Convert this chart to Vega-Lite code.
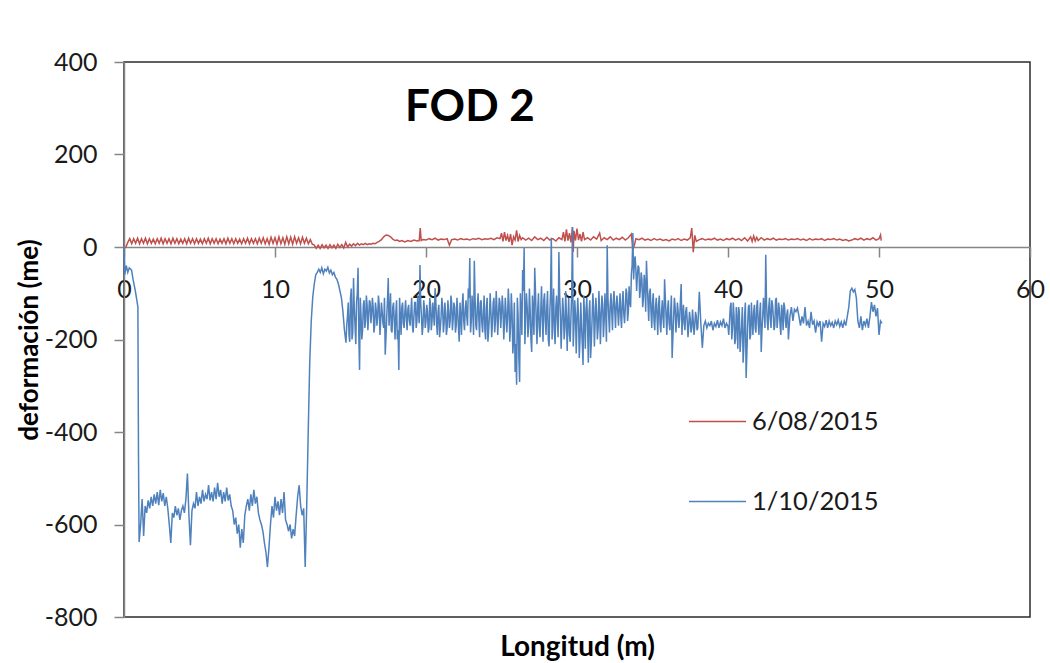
{
"$schema": "https://vega.github.io/schema/vega-lite/v6.json",
"width": 906, "height": 555,
"autosize": "none",
"padding": {"left": 124, "top": 62, "right": 20, "bottom": 46},
"background": "white",
"config": {"font": "Lato", "view": {"stroke": "#2b2b2b", "strokeWidth": 1.5}},
"title": {"text": "FOD 2", "anchor": "start", "frame": "group", "dx": 281, "offset": -115, "baseline": "alphabetic", "fontSize": 44, "fontWeight": "bold", "color": "#000000", "font": "Lato"},
"data": {"values": [
{"m":0.1,"me":-2,"serie":"6/08/2015"},{"m":0.25,"me":10,"serie":"6/08/2015"},{"m":0.38,"me":18,"serie":"6/08/2015"},{"m":0.51,"me":7,"serie":"6/08/2015"},{"m":0.64,"me":18,"serie":"6/08/2015"},{"m":0.77,"me":8,"serie":"6/08/2015"},{"m":0.9,"me":19,"serie":"6/08/2015"},{"m":1.03,"me":7,"serie":"6/08/2015"},{"m":1.16,"me":18,"serie":"6/08/2015"},{"m":1.29,"me":8,"serie":"6/08/2015"},{"m":1.42,"me":19,"serie":"6/08/2015"},{"m":1.55,"me":7,"serie":"6/08/2015"},{"m":1.68,"me":18,"serie":"6/08/2015"},{"m":1.81,"me":8,"serie":"6/08/2015"},{"m":1.94,"me":17,"serie":"6/08/2015"},{"m":2.07,"me":7,"serie":"6/08/2015"},{"m":2.2,"me":18,"serie":"6/08/2015"},{"m":2.33,"me":8,"serie":"6/08/2015"},{"m":2.46,"me":19,"serie":"6/08/2015"},{"m":2.59,"me":7,"serie":"6/08/2015"},{"m":2.72,"me":18,"serie":"6/08/2015"},{"m":2.85,"me":8,"serie":"6/08/2015"},{"m":2.98,"me":18,"serie":"6/08/2015"},{"m":3.11,"me":7,"serie":"6/08/2015"},{"m":3.24,"me":19,"serie":"6/08/2015"},{"m":3.37,"me":8,"serie":"6/08/2015"},{"m":3.5,"me":18,"serie":"6/08/2015"},{"m":3.63,"me":7,"serie":"6/08/2015"},{"m":3.76,"me":17,"serie":"6/08/2015"},{"m":3.89,"me":8,"serie":"6/08/2015"},{"m":4.02,"me":18,"serie":"6/08/2015"},{"m":4.15,"me":7,"serie":"6/08/2015"},{"m":4.28,"me":19,"serie":"6/08/2015"},{"m":4.41,"me":8,"serie":"6/08/2015"},{"m":4.54,"me":18,"serie":"6/08/2015"},{"m":4.67,"me":7,"serie":"6/08/2015"},{"m":4.8,"me":18,"serie":"6/08/2015"},{"m":4.93,"me":8,"serie":"6/08/2015"},{"m":5.06,"me":17,"serie":"6/08/2015"},{"m":5.19,"me":7,"serie":"6/08/2015"},{"m":5.32,"me":18,"serie":"6/08/2015"},{"m":5.45,"me":8,"serie":"6/08/2015"},{"m":5.58,"me":19,"serie":"6/08/2015"},{"m":5.71,"me":7,"serie":"6/08/2015"},{"m":5.84,"me":18,"serie":"6/08/2015"},{"m":5.97,"me":8,"serie":"6/08/2015"},{"m":6.1,"me":18,"serie":"6/08/2015"},{"m":6.23,"me":7,"serie":"6/08/2015"},{"m":6.36,"me":17,"serie":"6/08/2015"},{"m":6.49,"me":8,"serie":"6/08/2015"},{"m":6.62,"me":18,"serie":"6/08/2015"},{"m":6.75,"me":7,"serie":"6/08/2015"},{"m":6.88,"me":19,"serie":"6/08/2015"},{"m":7.01,"me":8,"serie":"6/08/2015"},{"m":7.14,"me":18,"serie":"6/08/2015"},{"m":7.27,"me":7,"serie":"6/08/2015"},{"m":7.4,"me":18,"serie":"6/08/2015"},{"m":7.53,"me":8,"serie":"6/08/2015"},{"m":7.66,"me":17,"serie":"6/08/2015"},{"m":7.79,"me":7,"serie":"6/08/2015"},{"m":7.92,"me":18,"serie":"6/08/2015"},{"m":8.05,"me":8,"serie":"6/08/2015"},{"m":8.18,"me":19,"serie":"6/08/2015"},{"m":8.31,"me":7,"serie":"6/08/2015"},{"m":8.44,"me":18,"serie":"6/08/2015"},{"m":8.57,"me":8,"serie":"6/08/2015"},{"m":8.7,"me":18,"serie":"6/08/2015"},{"m":8.83,"me":7,"serie":"6/08/2015"},{"m":8.96,"me":19,"serie":"6/08/2015"},{"m":9.09,"me":8,"serie":"6/08/2015"},{"m":9.22,"me":20,"serie":"6/08/2015"},{"m":9.35,"me":7,"serie":"6/08/2015"},{"m":9.48,"me":18,"serie":"6/08/2015"},{"m":9.61,"me":6,"serie":"6/08/2015"},{"m":9.74,"me":21,"serie":"6/08/2015"},{"m":9.87,"me":8,"serie":"6/08/2015"},{"m":10.0,"me":20,"serie":"6/08/2015"},{"m":10.13,"me":6,"serie":"6/08/2015"},{"m":10.26,"me":22,"serie":"6/08/2015"},{"m":10.39,"me":7,"serie":"6/08/2015"},{"m":10.52,"me":20,"serie":"6/08/2015"},{"m":10.65,"me":6,"serie":"6/08/2015"},{"m":10.78,"me":22,"serie":"6/08/2015"},{"m":10.91,"me":7,"serie":"6/08/2015"},{"m":11.04,"me":21,"serie":"6/08/2015"},{"m":11.17,"me":6,"serie":"6/08/2015"},{"m":11.3,"me":22,"serie":"6/08/2015"},{"m":11.43,"me":8,"serie":"6/08/2015"},{"m":11.56,"me":20,"serie":"6/08/2015"},{"m":11.69,"me":7,"serie":"6/08/2015"},{"m":11.82,"me":21,"serie":"6/08/2015"},{"m":11.95,"me":8,"serie":"6/08/2015"},{"m":12.08,"me":19,"serie":"6/08/2015"},{"m":12.21,"me":7,"serie":"6/08/2015"},{"m":12.34,"me":16,"serie":"6/08/2015"},{"m":12.47,"me":6,"serie":"6/08/2015"},{"m":12.6,"me":4,"serie":"6/08/2015"},
{"m":12.73,"me":-3,"serie":"6/08/2015"},{"m":12.86,"me":4,"serie":"6/08/2015"},{"m":12.99,"me":-3,"serie":"6/08/2015"},{"m":13.12,"me":5,"serie":"6/08/2015"},{"m":13.25,"me":-2,"serie":"6/08/2015"},{"m":13.38,"me":4,"serie":"6/08/2015"},{"m":13.51,"me":-3,"serie":"6/08/2015"},{"m":13.64,"me":5,"serie":"6/08/2015"},{"m":13.77,"me":-2,"serie":"6/08/2015"},{"m":13.9,"me":4,"serie":"6/08/2015"},{"m":14.03,"me":-3,"serie":"6/08/2015"},{"m":14.16,"me":6,"serie":"6/08/2015"},{"m":14.29,"me":-1,"serie":"6/08/2015"},{"m":14.42,"me":5,"serie":"6/08/2015"},{"m":14.55,"me":-2,"serie":"6/08/2015"},{"m":14.68,"me":10,"serie":"6/08/2015"},{"m":14.81,"me":0,"serie":"6/08/2015"},{"m":14.94,"me":6,"serie":"6/08/2015"},{"m":15.07,"me":2,"serie":"6/08/2015"},{"m":15.2,"me":7,"serie":"6/08/2015"},{"m":15.33,"me":3,"serie":"6/08/2015"},{"m":15.46,"me":8,"serie":"6/08/2015"},{"m":15.59,"me":4,"serie":"6/08/2015"},{"m":15.72,"me":7,"serie":"6/08/2015"},{"m":15.85,"me":5,"serie":"6/08/2015"},{"m":15.98,"me":8,"serie":"6/08/2015"},{"m":16.11,"me":5,"serie":"6/08/2015"},{"m":16.24,"me":7,"serie":"6/08/2015"},{"m":16.37,"me":6,"serie":"6/08/2015"},{"m":16.5,"me":8,"serie":"6/08/2015"},{"m":16.63,"me":7,"serie":"6/08/2015"},{"m":16.76,"me":10,"serie":"6/08/2015"},{"m":16.9,"me":12,"serie":"6/08/2015"},{"m":17.05,"me":16,"serie":"6/08/2015"},{"m":17.2,"me":22,"serie":"6/08/2015"},{"m":17.35,"me":26,"serie":"6/08/2015"},{"m":17.5,"me":25,"serie":"6/08/2015"},{"m":17.65,"me":22,"serie":"6/08/2015"},{"m":17.8,"me":17,"serie":"6/08/2015"},{"m":17.95,"me":14,"serie":"6/08/2015"},{"m":18.1,"me":15,"serie":"6/08/2015"},{"m":18.25,"me":12,"serie":"6/08/2015"},{"m":18.4,"me":14,"serie":"6/08/2015"},{"m":18.6,"me":11,"serie":"6/08/2015"},{"m":18.8,"me":14,"serie":"6/08/2015"},{"m":19.0,"me":12,"serie":"6/08/2015"},{"m":19.2,"me":15,"serie":"6/08/2015"},{"m":19.4,"me":13,"serie":"6/08/2015"},{"m":19.55,"me":14,"serie":"6/08/2015"},{"m":19.62,"me":41,"serie":"6/08/2015"},{"m":19.68,"me":14,"serie":"6/08/2015"},{"m":19.8,"me":16,"serie":"6/08/2015"},{"m":20.0,"me":15,"serie":"6/08/2015"},{"m":20.2,"me":18,"serie":"6/08/2015"},{"m":20.4,"me":16,"serie":"6/08/2015"},{"m":20.6,"me":19,"serie":"6/08/2015"},{"m":20.8,"me":15,"serie":"6/08/2015"},{"m":21.0,"me":17,"serie":"6/08/2015"},{"m":21.2,"me":16,"serie":"6/08/2015"},{"m":21.4,"me":18,"serie":"6/08/2015"},{"m":21.55,"me":4,"serie":"6/08/2015"},{"m":21.7,"me":16,"serie":"6/08/2015"},{"m":21.9,"me":17,"serie":"6/08/2015"},{"m":22.1,"me":15,"serie":"6/08/2015"},{"m":22.3,"me":18,"serie":"6/08/2015"},{"m":22.5,"me":16,"serie":"6/08/2015"},{"m":22.7,"me":17,"serie":"6/08/2015"},{"m":22.9,"me":15,"serie":"6/08/2015"},{"m":23.1,"me":18,"serie":"6/08/2015"},{"m":23.3,"me":17,"serie":"6/08/2015"},{"m":23.5,"me":19,"serie":"6/08/2015"},{"m":23.7,"me":16,"serie":"6/08/2015"},{"m":23.9,"me":18,"serie":"6/08/2015"},{"m":24.1,"me":17,"serie":"6/08/2015"},{"m":24.3,"me":19,"serie":"6/08/2015"},{"m":24.5,"me":16,"serie":"6/08/2015"},{"m":24.7,"me":20,"serie":"6/08/2015"},{"m":24.9,"me":18,"serie":"6/08/2015"},{"m":25.0,"me":30,"serie":"6/08/2015"},{"m":25.1,"me":12,"serie":"6/08/2015"},{"m":25.2,"me":32,"serie":"6/08/2015"},{"m":25.3,"me":14,"serie":"6/08/2015"},{"m":25.4,"me":25,"serie":"6/08/2015"},{"m":25.5,"me":11,"serie":"6/08/2015"},{"m":25.6,"me":28,"serie":"6/08/2015"},{"m":25.7,"me":4,"serie":"6/08/2015"},{"m":25.8,"me":22,"serie":"6/08/2015"},{"m":25.9,"me":15,"serie":"6/08/2015"},{"m":26.0,"me":36,"serie":"6/08/2015"},{"m":26.1,"me":12,"serie":"6/08/2015"},{"m":26.2,"me":25,"serie":"6/08/2015"},{"m":26.3,"me":16,"serie":"6/08/2015"},{"m":26.4,"me":20,"serie":"6/08/2015"},{"m":26.6,"me":15,"serie":"6/08/2015"},{"m":26.8,"me":19,"serie":"6/08/2015"},{"m":27.0,"me":14,"serie":"6/08/2015"},{"m":27.2,"me":22,"serie":"6/08/2015"},{"m":27.4,"me":16,"serie":"6/08/2015"},{"m":27.6,"me":19,"serie":"6/08/2015"},{"m":27.8,"me":14,"serie":"6/08/2015"},{"m":28.0,"me":21,"serie":"6/08/2015"},{"m":28.2,"me":15,"serie":"6/08/2015"},{"m":28.4,"me":18,"serie":"6/08/2015"},{"m":28.6,"me":13,"serie":"6/08/2015"},{"m":28.8,"me":20,"serie":"6/08/2015"},{"m":29.0,"me":16,"serie":"6/08/2015"},{"m":29.1,"me":32,"serie":"6/08/2015"},{"m":29.2,"me":12,"serie":"6/08/2015"},{"m":29.3,"me":38,"serie":"6/08/2015"},{"m":29.4,"me":14,"serie":"6/08/2015"},{"m":29.5,"me":30,"serie":"6/08/2015"},{"m":29.6,"me":10,"serie":"6/08/2015"},{"m":29.7,"me":43,"serie":"6/08/2015"},{"m":29.75,"me":-11,"serie":"6/08/2015"},{"m":29.8,"me":35,"serie":"6/08/2015"},{"m":29.9,"me":14,"serie":"6/08/2015"},{"m":30.0,"me":40,"serie":"6/08/2015"},{"m":30.1,"me":15,"serie":"6/08/2015"},{"m":30.2,"me":28,"serie":"6/08/2015"},{"m":30.3,"me":12,"serie":"6/08/2015"},{"m":30.4,"me":32,"serie":"6/08/2015"},{"m":30.5,"me":16,"serie":"6/08/2015"},{"m":30.7,"me":20,"serie":"6/08/2015"},{"m":30.9,"me":15,"serie":"6/08/2015"},{"m":31.1,"me":22,"serie":"6/08/2015"},{"m":31.3,"me":17,"serie":"6/08/2015"},{"m":31.5,"me":30,"serie":"6/08/2015"},{"m":31.6,"me":14,"serie":"6/08/2015"},{"m":31.8,"me":20,"serie":"6/08/2015"},{"m":32.0,"me":16,"serie":"6/08/2015"},{"m":32.2,"me":22,"serie":"6/08/2015"},{"m":32.4,"me":15,"serie":"6/08/2015"},{"m":32.6,"me":19,"serie":"6/08/2015"},{"m":32.8,"me":16,"serie":"6/08/2015"},{"m":33.0,"me":21,"serie":"6/08/2015"},{"m":33.2,"me":15,"serie":"6/08/2015"},{"m":33.4,"me":20,"serie":"6/08/2015"},{"m":33.6,"me":28,"serie":"6/08/2015"},{"m":33.7,"me":-6,"serie":"6/08/2015"},{"m":33.8,"me":4,"serie":"6/08/2015"},{"m":33.9,"me":18,"serie":"6/08/2015"},{"m":34.1,"me":16,"serie":"6/08/2015"},{"m":34.3,"me":19,"serie":"6/08/2015"},{"m":34.5,"me":15,"serie":"6/08/2015"},{"m":34.7,"me":17,"serie":"6/08/2015"},{"m":34.9,"me":14,"serie":"6/08/2015"},{"m":35.1,"me":18,"serie":"6/08/2015"},{"m":35.3,"me":15,"serie":"6/08/2015"},{"m":35.5,"me":17,"serie":"6/08/2015"},{"m":35.7,"me":14,"serie":"6/08/2015"},{"m":35.9,"me":16,"serie":"6/08/2015"},{"m":36.1,"me":13,"serie":"6/08/2015"},{"m":36.3,"me":17,"serie":"6/08/2015"},{"m":36.5,"me":15,"serie":"6/08/2015"},{"m":36.7,"me":18,"serie":"6/08/2015"},{"m":36.9,"me":14,"serie":"6/08/2015"},{"m":37.1,"me":17,"serie":"6/08/2015"},{"m":37.3,"me":15,"serie":"6/08/2015"},{"m":37.5,"me":20,"serie":"6/08/2015"},{"m":37.6,"me":41,"serie":"6/08/2015"},{"m":37.7,"me":-11,"serie":"6/08/2015"},{"m":37.8,"me":25,"serie":"6/08/2015"},{"m":37.9,"me":12,"serie":"6/08/2015"},{"m":38.1,"me":16,"serie":"6/08/2015"},{"m":38.3,"me":18,"serie":"6/08/2015"},{"m":38.5,"me":15,"serie":"6/08/2015"},{"m":38.7,"me":17,"serie":"6/08/2015"},{"m":38.9,"me":16,"serie":"6/08/2015"},{"m":39.1,"me":19,"serie":"6/08/2015"},{"m":39.3,"me":15,"serie":"6/08/2015"},{"m":39.5,"me":17,"serie":"6/08/2015"},{"m":39.7,"me":14,"serie":"6/08/2015"},{"m":39.9,"me":18,"serie":"6/08/2015"},{"m":40.1,"me":16,"serie":"6/08/2015"},{"m":40.3,"me":19,"serie":"6/08/2015"},{"m":40.5,"me":15,"serie":"6/08/2015"},{"m":40.7,"me":18,"serie":"6/08/2015"},{"m":40.9,"me":14,"serie":"6/08/2015"},{"m":41.1,"me":20,"serie":"6/08/2015"},{"m":41.3,"me":13,"serie":"6/08/2015"},{"m":41.5,"me":22,"serie":"6/08/2015"},{"m":41.6,"me":12,"serie":"6/08/2015"},{"m":41.7,"me":24,"serie":"6/08/2015"},{"m":41.8,"me":13,"serie":"6/08/2015"},{"m":41.9,"me":21,"serie":"6/08/2015"},{"m":42.0,"me":14,"serie":"6/08/2015"},{"m":42.2,"me":20,"serie":"6/08/2015"},{"m":42.4,"me":15,"serie":"6/08/2015"},{"m":42.6,"me":18,"serie":"6/08/2015"},{"m":42.8,"me":16,"serie":"6/08/2015"},{"m":43.0,"me":19,"serie":"6/08/2015"},{"m":43.2,"me":15,"serie":"6/08/2015"},{"m":43.4,"me":17,"serie":"6/08/2015"},{"m":43.6,"me":16,"serie":"6/08/2015"},{"m":43.8,"me":18,"serie":"6/08/2015"},{"m":44.0,"me":15,"serie":"6/08/2015"},{"m":44.2,"me":17,"serie":"6/08/2015"},{"m":44.4,"me":16,"serie":"6/08/2015"},{"m":44.6,"me":18,"serie":"6/08/2015"},{"m":44.8,"me":15,"serie":"6/08/2015"},{"m":45.0,"me":17,"serie":"6/08/2015"},{"m":45.2,"me":14,"serie":"6/08/2015"},{"m":45.4,"me":18,"serie":"6/08/2015"},{"m":45.6,"me":15,"serie":"6/08/2015"},{"m":45.8,"me":17,"serie":"6/08/2015"},{"m":46.0,"me":16,"serie":"6/08/2015"},{"m":46.2,"me":18,"serie":"6/08/2015"},{"m":46.4,"me":14,"serie":"6/08/2015"},{"m":46.6,"me":17,"serie":"6/08/2015"},{"m":46.8,"me":16,"serie":"6/08/2015"},{"m":47.0,"me":18,"serie":"6/08/2015"},{"m":47.2,"me":15,"serie":"6/08/2015"},{"m":47.4,"me":17,"serie":"6/08/2015"},{"m":47.6,"me":14,"serie":"6/08/2015"},{"m":47.8,"me":16,"serie":"6/08/2015"},{"m":48.0,"me":13,"serie":"6/08/2015"},{"m":48.2,"me":15,"serie":"6/08/2015"},{"m":48.4,"me":18,"serie":"6/08/2015"},{"m":48.6,"me":16,"serie":"6/08/2015"},{"m":48.8,"me":19,"serie":"6/08/2015"},{"m":49.0,"me":15,"serie":"6/08/2015"},{"m":49.2,"me":18,"serie":"6/08/2015"},{"m":49.4,"me":16,"serie":"6/08/2015"},{"m":49.6,"me":20,"serie":"6/08/2015"},{"m":49.8,"me":15,"serie":"6/08/2015"},{"m":50.0,"me":18,"serie":"6/08/2015"},{"m":50.1,"me":26,"serie":"6/08/2015"},{"m":50.15,"me":14,"serie":"6/08/2015"},
{"m":0.0,"me":0,"serie":"1/10/2015"},{"m":0.05,"me":-60,"serie":"1/10/2015"},{"m":0.15,"me":-40,"serie":"1/10/2015"},{"m":0.25,"me":-55,"serie":"1/10/2015"},{"m":0.35,"me":-45,"serie":"1/10/2015"},{"m":0.5,"me":-50,"serie":"1/10/2015"},{"m":0.6,"me":-70,"serie":"1/10/2015"},{"m":0.75,"me":-95,"serie":"1/10/2015"},{"m":0.85,"me":-115,"serie":"1/10/2015"},{"m":0.92,"me":-130,"serie":"1/10/2015"},{"m":0.96,"me":-450,"serie":"1/10/2015"},{"m":1.0,"me":-638,"serie":"1/10/2015"},{"m":1.1,"me":-600,"serie":"1/10/2015"},{"m":1.2,"me":-545,"serie":"1/10/2015"},{"m":1.3,"me":-625,"serie":"1/10/2015"},{"m":1.4,"me":-560,"serie":"1/10/2015"},{"m":1.5,"me":-575,"serie":"1/10/2015"},{"m":1.6,"me":-548,"serie":"1/10/2015"},{"m":1.7,"me":-565,"serie":"1/10/2015"},{"m":1.8,"me":-540,"serie":"1/10/2015"},{"m":1.9,"me":-560,"serie":"1/10/2015"},{"m":2.0,"me":-535,"serie":"1/10/2015"},{"m":2.1,"me":-555,"serie":"1/10/2015"},{"m":2.2,"me":-530,"serie":"1/10/2015"},{"m":2.3,"me":-558,"serie":"1/10/2015"},{"m":2.4,"me":-525,"serie":"1/10/2015"},{"m":2.5,"me":-550,"serie":"1/10/2015"},{"m":2.6,"me":-532,"serie":"1/10/2015"},{"m":2.7,"me":-560,"serie":"1/10/2015"},{"m":2.8,"me":-540,"serie":"1/10/2015"},{"m":2.9,"me":-565,"serie":"1/10/2015"},{"m":3.0,"me":-600,"serie":"1/10/2015"},{"m":3.1,"me":-640,"serie":"1/10/2015"},{"m":3.2,"me":-575,"serie":"1/10/2015"},{"m":3.3,"me":-585,"serie":"1/10/2015"},{"m":3.4,"me":-560,"serie":"1/10/2015"},{"m":3.5,"me":-580,"serie":"1/10/2015"},{"m":3.6,"me":-565,"serie":"1/10/2015"},{"m":3.7,"me":-590,"serie":"1/10/2015"},{"m":3.8,"me":-570,"serie":"1/10/2015"},{"m":3.9,"me":-560,"serie":"1/10/2015"},{"m":4.0,"me":-575,"serie":"1/10/2015"},{"m":4.1,"me":-545,"serie":"1/10/2015"},{"m":4.2,"me":-490,"serie":"1/10/2015"},{"m":4.3,"me":-580,"serie":"1/10/2015"},{"m":4.4,"me":-645,"serie":"1/10/2015"},{"m":4.5,"me":-570,"serie":"1/10/2015"},{"m":4.6,"me":-555,"serie":"1/10/2015"},{"m":4.7,"me":-565,"serie":"1/10/2015"},{"m":4.8,"me":-530,"serie":"1/10/2015"},{"m":4.9,"me":-560,"serie":"1/10/2015"},{"m":5.0,"me":-540,"serie":"1/10/2015"},{"m":5.1,"me":-555,"serie":"1/10/2015"},{"m":5.2,"me":-525,"serie":"1/10/2015"},{"m":5.3,"me":-550,"serie":"1/10/2015"},{"m":5.4,"me":-535,"serie":"1/10/2015"},{"m":5.5,"me":-545,"serie":"1/10/2015"},{"m":5.6,"me":-515,"serie":"1/10/2015"},{"m":5.7,"me":-548,"serie":"1/10/2015"},{"m":5.8,"me":-530,"serie":"1/10/2015"},{"m":5.9,"me":-550,"serie":"1/10/2015"},{"m":6.0,"me":-520,"serie":"1/10/2015"},{"m":6.1,"me":-545,"serie":"1/10/2015"},{"m":6.2,"me":-510,"serie":"1/10/2015"},{"m":6.3,"me":-540,"serie":"1/10/2015"},{"m":6.4,"me":-525,"serie":"1/10/2015"},{"m":6.5,"me":-555,"serie":"1/10/2015"},{"m":6.6,"me":-530,"serie":"1/10/2015"},{"m":6.7,"me":-550,"serie":"1/10/2015"},{"m":6.8,"me":-520,"serie":"1/10/2015"},{"m":6.9,"me":-548,"serie":"1/10/2015"},{"m":7.0,"me":-535,"serie":"1/10/2015"},{"m":7.1,"me":-560,"serie":"1/10/2015"},{"m":7.2,"me":-570,"serie":"1/10/2015"},{"m":7.3,"me":-600,"serie":"1/10/2015"},{"m":7.4,"me":-585,"serie":"1/10/2015"},{"m":7.5,"me":-620,"serie":"1/10/2015"},{"m":7.6,"me":-600,"serie":"1/10/2015"},{"m":7.7,"me":-650,"serie":"1/10/2015"},{"m":7.8,"me":-610,"serie":"1/10/2015"},{"m":7.9,"me":-640,"serie":"1/10/2015"},{"m":8.0,"me":-580,"serie":"1/10/2015"},{"m":8.1,"me":-560,"serie":"1/10/2015"},{"m":8.2,"me":-545,"serie":"1/10/2015"},{"m":8.3,"me":-570,"serie":"1/10/2015"},{"m":8.4,"me":-535,"serie":"1/10/2015"},{"m":8.5,"me":-560,"serie":"1/10/2015"},{"m":8.6,"me":-525,"serie":"1/10/2015"},{"m":8.7,"me":-555,"serie":"1/10/2015"},{"m":8.8,"me":-540,"serie":"1/10/2015"},{"m":8.9,"me":-575,"serie":"1/10/2015"},{"m":9.0,"me":-590,"serie":"1/10/2015"},{"m":9.1,"me":-600,"serie":"1/10/2015"},{"m":9.2,"me":-615,"serie":"1/10/2015"},{"m":9.3,"me":-640,"serie":"1/10/2015"},{"m":9.4,"me":-660,"serie":"1/10/2015"},{"m":9.5,"me":-692,"serie":"1/10/2015"},{"m":9.6,"me":-650,"serie":"1/10/2015"},{"m":9.7,"me":-600,"serie":"1/10/2015"},{"m":9.8,"me":-560,"serie":"1/10/2015"},{"m":9.9,"me":-585,"serie":"1/10/2015"},{"m":10.0,"me":-540,"serie":"1/10/2015"},{"m":10.1,"me":-570,"serie":"1/10/2015"},{"m":10.2,"me":-550,"serie":"1/10/2015"},{"m":10.3,"me":-580,"serie":"1/10/2015"},{"m":10.4,"me":-545,"serie":"1/10/2015"},{"m":10.5,"me":-575,"serie":"1/10/2015"},{"m":10.6,"me":-530,"serie":"1/10/2015"},{"m":10.7,"me":-590,"serie":"1/10/2015"},{"m":10.8,"me":-600,"serie":"1/10/2015"},{"m":10.9,"me":-615,"serie":"1/10/2015"},{"m":11.0,"me":-600,"serie":"1/10/2015"},{"m":11.1,"me":-630,"serie":"1/10/2015"},{"m":11.2,"me":-610,"serie":"1/10/2015"},{"m":11.3,"me":-625,"serie":"1/10/2015"},{"m":11.4,"me":-580,"serie":"1/10/2015"},{"m":11.5,"me":-540,"serie":"1/10/2015"},{"m":11.6,"me":-515,"serie":"1/10/2015"},{"m":11.7,"me":-560,"serie":"1/10/2015"},{"m":11.8,"me":-580,"serie":"1/10/2015"},{"m":11.9,"me":-565,"serie":"1/10/2015"},{"m":12.0,"me":-692,"serie":"1/10/2015"},{"m":12.1,"me":-560,"serie":"1/10/2015"},{"m":12.2,"me":-400,"serie":"1/10/2015"},{"m":12.3,"me":-250,"serie":"1/10/2015"},{"m":12.4,"me":-160,"serie":"1/10/2015"},{"m":12.5,"me":-108,"serie":"1/10/2015"},{"m":12.6,"me":-80,"serie":"1/10/2015"},{"m":12.7,"me":-60,"serie":"1/10/2015"},{"m":12.8,"me":-55,"serie":"1/10/2015"},{"m":12.9,"me":-48,"serie":"1/10/2015"},{"m":13.0,"me":-55,"serie":"1/10/2015"},{"m":13.1,"me":-45,"serie":"1/10/2015"},{"m":13.2,"me":-58,"serie":"1/10/2015"},{"m":13.3,"me":-48,"serie":"1/10/2015"},{"m":13.4,"me":-52,"serie":"1/10/2015"},{"m":13.5,"me":-44,"serie":"1/10/2015"},{"m":13.6,"me":-56,"serie":"1/10/2015"},{"m":13.7,"me":-50,"serie":"1/10/2015"},{"m":13.8,"me":-60,"serie":"1/10/2015"},{"m":13.9,"me":-55,"serie":"1/10/2015"},{"m":14.0,"me":-65,"serie":"1/10/2015"},{"m":14.1,"me":-70,"serie":"1/10/2015"},{"m":14.2,"me":-80,"serie":"1/10/2015"},{"m":14.3,"me":-95,"serie":"1/10/2015"},{"m":14.4,"me":-110,"serie":"1/10/2015"},{"m":14.5,"me":-140,"serie":"1/10/2015"},{"m":14.6,"me":-180,"serie":"1/10/2015"},{"m":14.7,"me":-207,"serie":"1/10/2015"},{"m":14.8,"me":-150,"serie":"1/10/2015"},{"m":14.9,"me":-190,"serie":"1/10/2015"},{"m":15.0,"me":-110,"serie":"1/10/2015"},{"m":15.1,"me":-200,"serie":"1/10/2015"},{"m":15.2,"me":-67,"serie":"1/10/2015"},{"m":15.3,"me":-170,"serie":"1/10/2015"},{"m":15.4,"me":-120,"serie":"1/10/2015"},{"m":15.5,"me":-45,"serie":"1/10/2015"},{"m":15.6,"me":-266,"serie":"1/10/2015"},{"m":15.7,"me":-150,"serie":"1/10/2015"},{"m":15.8,"me":-180,"serie":"1/10/2015"},{"m":15.9,"me":-115,"serie":"1/10/2015"},{"m":16.0,"me":-160,"serie":"1/10/2015"},{"m":16.1,"me":-125,"serie":"1/10/2015"},{"m":16.2,"me":-150,"serie":"1/10/2015"},{"m":16.3,"me":-120,"serie":"1/10/2015"},{"m":16.4,"me":-145,"serie":"1/10/2015"},{"m":16.5,"me":-130,"serie":"1/10/2015"},{"m":16.6,"me":-170,"serie":"1/10/2015"},{"m":16.7,"me":-135,"serie":"1/10/2015"},{"m":16.8,"me":-150,"serie":"1/10/2015"},{"m":16.9,"me":-125,"serie":"1/10/2015"},{"m":17.0,"me":-160,"serie":"1/10/2015"},{"m":17.1,"me":-140,"serie":"1/10/2015"},{"m":17.2,"me":-175,"serie":"1/10/2015"},{"m":17.3,"me":-233,"serie":"1/10/2015"},{"m":17.4,"me":-150,"serie":"1/10/2015"},{"m":17.5,"me":-67,"serie":"1/10/2015"},{"m":17.6,"me":-140,"serie":"1/10/2015"},{"m":17.7,"me":-180,"serie":"1/10/2015"},{"m":17.8,"me":-130,"serie":"1/10/2015"},{"m":17.9,"me":-160,"serie":"1/10/2015"},{"m":18.0,"me":-145,"serie":"1/10/2015"},{"m":18.1,"me":-200,"serie":"1/10/2015"},{"m":18.2,"me":-266,"serie":"1/10/2015"},{"m":18.3,"me":-150,"serie":"1/10/2015"},{"m":18.4,"me":-130,"serie":"1/10/2015"},{"m":18.5,"me":-165,"serie":"1/10/2015"},{"m":18.6,"me":-140,"serie":"1/10/2015"},{"m":18.7,"me":-155,"serie":"1/10/2015"},{"m":18.8,"me":-135,"serie":"1/10/2015"},{"m":18.9,"me":-160,"serie":"1/10/2015"},{"m":19.0,"me":-140,"serie":"1/10/2015"},{"m":19.1,"me":-170,"serie":"1/10/2015"},{"m":19.2,"me":-150,"serie":"1/10/2015"},{"m":19.3,"me":-120,"serie":"1/10/2015"},{"m":19.4,"me":-160,"serie":"1/10/2015"},{"m":19.5,"me":-140,"serie":"1/10/2015"},{"m":19.6,"me":-39,"serie":"1/10/2015"},{"m":19.7,"me":-150,"serie":"1/10/2015"},{"m":19.8,"me":-170,"serie":"1/10/2015"},{"m":19.9,"me":-135,"serie":"1/10/2015"},{"m":20.0,"me":-160,"serie":"1/10/2015"},{"m":20.1,"me":-140,"serie":"1/10/2015"},{"m":20.2,"me":-175,"serie":"1/10/2015"},{"m":20.3,"me":-125,"serie":"1/10/2015"},{"m":20.4,"me":-160,"serie":"1/10/2015"},{"m":20.5,"me":-145,"serie":"1/10/2015"},{"m":20.6,"me":-89,"serie":"1/10/2015"},{"m":20.7,"me":-165,"serie":"1/10/2015"},{"m":20.8,"me":-140,"serie":"1/10/2015"},{"m":20.9,"me":-195,"serie":"1/10/2015"},{"m":21.0,"me":-150,"serie":"1/10/2015"},{"m":21.1,"me":-130,"serie":"1/10/2015"},{"m":21.2,"me":-165,"serie":"1/10/2015"},{"m":21.3,"me":-145,"serie":"1/10/2015"},{"m":21.4,"me":-175,"serie":"1/10/2015"},{"m":21.5,"me":-140,"serie":"1/10/2015"},{"m":21.6,"me":-160,"serie":"1/10/2015"},{"m":21.7,"me":-120,"serie":"1/10/2015"},{"m":21.8,"me":-155,"serie":"1/10/2015"},{"m":21.9,"me":-130,"serie":"1/10/2015"},{"m":22.0,"me":-170,"serie":"1/10/2015"},{"m":22.1,"me":-140,"serie":"1/10/2015"},{"m":22.2,"me":-205,"serie":"1/10/2015"},{"m":22.3,"me":-150,"serie":"1/10/2015"},{"m":22.4,"me":-125,"serie":"1/10/2015"},{"m":22.5,"me":-160,"serie":"1/10/2015"},{"m":22.6,"me":-135,"serie":"1/10/2015"},{"m":22.7,"me":-150,"serie":"1/10/2015"},{"m":22.8,"me":-90,"serie":"1/10/2015"},{"m":22.9,"me":-24,"serie":"1/10/2015"},{"m":23.0,"me":-160,"serie":"1/10/2015"},{"m":23.1,"me":-140,"serie":"1/10/2015"},{"m":23.2,"me":-30,"serie":"1/10/2015"},{"m":23.3,"me":-170,"serie":"1/10/2015"},{"m":23.4,"me":-130,"serie":"1/10/2015"},{"m":23.5,"me":-155,"serie":"1/10/2015"},{"m":23.6,"me":-120,"serie":"1/10/2015"},{"m":23.7,"me":-165,"serie":"1/10/2015"},{"m":23.8,"me":-140,"serie":"1/10/2015"},{"m":23.9,"me":-180,"serie":"1/10/2015"},{"m":24.0,"me":-130,"serie":"1/10/2015"},{"m":24.1,"me":-205,"serie":"1/10/2015"},{"m":24.2,"me":-150,"serie":"1/10/2015"},{"m":24.3,"me":-140,"serie":"1/10/2015"},{"m":24.4,"me":-165,"serie":"1/10/2015"},{"m":24.5,"me":-110,"serie":"1/10/2015"},{"m":24.6,"me":-160,"serie":"1/10/2015"},{"m":24.7,"me":-135,"serie":"1/10/2015"},{"m":24.8,"me":-150,"serie":"1/10/2015"},{"m":24.9,"me":-120,"serie":"1/10/2015"},{"m":25.0,"me":-145,"serie":"1/10/2015"},{"m":25.1,"me":-130,"serie":"1/10/2015"},{"m":25.2,"me":-165,"serie":"1/10/2015"},{"m":25.3,"me":-140,"serie":"1/10/2015"},{"m":25.4,"me":-155,"serie":"1/10/2015"},{"m":25.5,"me":-125,"serie":"1/10/2015"},{"m":25.6,"me":-170,"serie":"1/10/2015"},{"m":25.7,"me":-140,"serie":"1/10/2015"},{"m":25.8,"me":-200,"serie":"1/10/2015"},{"m":25.9,"me":-270,"serie":"1/10/2015"},{"m":26.0,"me":-298,"serie":"1/10/2015"},{"m":26.1,"me":-150,"serie":"1/10/2015"},{"m":26.2,"me":-292,"serie":"1/10/2015"},{"m":26.3,"me":-140,"serie":"1/10/2015"},{"m":26.4,"me":-50,"serie":"1/10/2015"},{"m":26.5,"me":-2,"serie":"1/10/2015"},{"m":26.6,"me":-150,"serie":"1/10/2015"},{"m":26.7,"me":-130,"serie":"1/10/2015"},{"m":26.8,"me":-170,"serie":"1/10/2015"},{"m":26.9,"me":-140,"serie":"1/10/2015"},{"m":27.0,"me":-227,"serie":"1/10/2015"},{"m":27.1,"me":-145,"serie":"1/10/2015"},{"m":27.2,"me":-45,"serie":"1/10/2015"},{"m":27.3,"me":-160,"serie":"1/10/2015"},{"m":27.4,"me":-135,"serie":"1/10/2015"},{"m":27.5,"me":-175,"serie":"1/10/2015"},{"m":27.6,"me":-140,"serie":"1/10/2015"},{"m":27.7,"me":-150,"serie":"1/10/2015"},{"m":27.8,"me":-115,"serie":"1/10/2015"},{"m":27.9,"me":-160,"serie":"1/10/2015"},{"m":28.0,"me":-130,"serie":"1/10/2015"},{"m":28.1,"me":-200,"serie":"1/10/2015"},{"m":28.2,"me":-140,"serie":"1/10/2015"},{"m":28.3,"me":20,"serie":"1/10/2015"},{"m":28.4,"me":-150,"serie":"1/10/2015"},{"m":28.5,"me":-180,"serie":"1/10/2015"},{"m":28.6,"me":-130,"serie":"1/10/2015"},{"m":28.7,"me":-160,"serie":"1/10/2015"},{"m":28.8,"me":-11,"serie":"1/10/2015"},{"m":28.9,"me":-150,"serie":"1/10/2015"},{"m":29.0,"me":-165,"serie":"1/10/2015"},{"m":29.1,"me":-140,"serie":"1/10/2015"},{"m":29.2,"me":-175,"serie":"1/10/2015"},{"m":29.3,"me":-150,"serie":"1/10/2015"},{"m":29.4,"me":-160,"serie":"1/10/2015"},{"m":29.5,"me":-190,"serie":"1/10/2015"},{"m":29.6,"me":-150,"serie":"1/10/2015"},{"m":29.7,"me":43,"serie":"1/10/2015"},{"m":29.8,"me":-170,"serie":"1/10/2015"},{"m":29.9,"me":-145,"serie":"1/10/2015"},{"m":30.0,"me":-160,"serie":"1/10/2015"},{"m":30.1,"me":-150,"serie":"1/10/2015"},{"m":30.2,"me":-200,"serie":"1/10/2015"},{"m":30.3,"me":-170,"serie":"1/10/2015"},{"m":30.4,"me":-255,"serie":"1/10/2015"},{"m":30.5,"me":-150,"serie":"1/10/2015"},{"m":30.6,"me":-135,"serie":"1/10/2015"},{"m":30.7,"me":-170,"serie":"1/10/2015"},{"m":30.8,"me":-140,"serie":"1/10/2015"},{"m":30.9,"me":-240,"serie":"1/10/2015"},{"m":31.0,"me":-155,"serie":"1/10/2015"},{"m":31.1,"me":-130,"serie":"1/10/2015"},{"m":31.2,"me":-165,"serie":"1/10/2015"},{"m":31.3,"me":-145,"serie":"1/10/2015"},{"m":31.4,"me":-175,"serie":"1/10/2015"},{"m":31.5,"me":-140,"serie":"1/10/2015"},{"m":31.6,"me":-150,"serie":"1/10/2015"},{"m":31.7,"me":-125,"serie":"1/10/2015"},{"m":31.8,"me":-160,"serie":"1/10/2015"},{"m":31.9,"me":-140,"serie":"1/10/2015"},{"m":32.0,"me":4,"serie":"1/10/2015"},{"m":32.1,"me":-150,"serie":"1/10/2015"},{"m":32.2,"me":-125,"serie":"1/10/2015"},{"m":32.3,"me":-140,"serie":"1/10/2015"},{"m":32.4,"me":-120,"serie":"1/10/2015"},{"m":32.5,"me":-135,"serie":"1/10/2015"},{"m":32.6,"me":-125,"serie":"1/10/2015"},{"m":32.7,"me":-140,"serie":"1/10/2015"},{"m":32.8,"me":-130,"serie":"1/10/2015"},{"m":32.9,"me":-150,"serie":"1/10/2015"},{"m":33.0,"me":-120,"serie":"1/10/2015"},{"m":33.1,"me":-145,"serie":"1/10/2015"},{"m":33.2,"me":-130,"serie":"1/10/2015"},{"m":33.3,"me":-100,"serie":"1/10/2015"},{"m":33.4,"me":-140,"serie":"1/10/2015"},{"m":33.5,"me":-120,"serie":"1/10/2015"},{"m":33.6,"me":-60,"serie":"1/10/2015"},{"m":33.7,"me":30,"serie":"1/10/2015"},{"m":33.8,"me":-32,"serie":"1/10/2015"},{"m":33.9,"me":-50,"serie":"1/10/2015"},{"m":34.0,"me":-60,"serie":"1/10/2015"},{"m":34.1,"me":-45,"serie":"1/10/2015"},{"m":34.2,"me":-90,"serie":"1/10/2015"},{"m":34.3,"me":-70,"serie":"1/10/2015"},{"m":34.4,"me":-110,"serie":"1/10/2015"},{"m":34.5,"me":-80,"serie":"1/10/2015"},{"m":34.6,"me":-30,"serie":"1/10/2015"},{"m":34.7,"me":-120,"serie":"1/10/2015"},{"m":34.8,"me":-100,"serie":"1/10/2015"},{"m":34.9,"me":-140,"serie":"1/10/2015"},{"m":35.0,"me":-120,"serie":"1/10/2015"},{"m":35.1,"me":-160,"serie":"1/10/2015"},{"m":35.2,"me":-130,"serie":"1/10/2015"},{"m":35.3,"me":-150,"serie":"1/10/2015"},{"m":35.4,"me":-125,"serie":"1/10/2015"},{"m":35.5,"me":-165,"serie":"1/10/2015"},{"m":35.6,"me":-140,"serie":"1/10/2015"},{"m":35.7,"me":-155,"serie":"1/10/2015"},{"m":35.8,"me":-70,"serie":"1/10/2015"},{"m":35.9,"me":-150,"serie":"1/10/2015"},{"m":36.0,"me":-135,"serie":"1/10/2015"},{"m":36.1,"me":-165,"serie":"1/10/2015"},{"m":36.2,"me":-145,"serie":"1/10/2015"},{"m":36.3,"me":-240,"serie":"1/10/2015"},{"m":36.4,"me":-150,"serie":"1/10/2015"},{"m":36.5,"me":-130,"serie":"1/10/2015"},{"m":36.6,"me":-160,"serie":"1/10/2015"},{"m":36.7,"me":-140,"serie":"1/10/2015"},{"m":36.8,"me":-155,"serie":"1/10/2015"},{"m":36.9,"me":-80,"serie":"1/10/2015"},{"m":37.0,"me":-150,"serie":"1/10/2015"},{"m":37.1,"me":-165,"serie":"1/10/2015"},{"m":37.2,"me":-140,"serie":"1/10/2015"},{"m":37.3,"me":-160,"serie":"1/10/2015"},{"m":37.4,"me":-170,"serie":"1/10/2015"},{"m":37.5,"me":-155,"serie":"1/10/2015"},{"m":37.6,"me":-175,"serie":"1/10/2015"},{"m":37.7,"me":-160,"serie":"1/10/2015"},{"m":37.8,"me":-170,"serie":"1/10/2015"},{"m":37.9,"me":-150,"serie":"1/10/2015"},{"m":38.0,"me":-175,"serie":"1/10/2015"},{"m":38.1,"me":-97,"serie":"1/10/2015"},{"m":38.2,"me":-165,"serie":"1/10/2015"},{"m":38.3,"me":-218,"serie":"1/10/2015"},{"m":38.4,"me":-170,"serie":"1/10/2015"},{"m":38.5,"me":-160,"serie":"1/10/2015"},{"m":38.6,"me":-175,"serie":"1/10/2015"},{"m":38.7,"me":-165,"serie":"1/10/2015"},{"m":38.8,"me":-170,"serie":"1/10/2015"},{"m":38.9,"me":-160,"serie":"1/10/2015"},{"m":39.0,"me":-180,"serie":"1/10/2015"},{"m":39.1,"me":-165,"serie":"1/10/2015"},{"m":39.2,"me":-172,"serie":"1/10/2015"},{"m":39.3,"me":-158,"serie":"1/10/2015"},{"m":39.4,"me":-175,"serie":"1/10/2015"},{"m":39.5,"me":-162,"serie":"1/10/2015"},{"m":39.6,"me":-170,"serie":"1/10/2015"},{"m":39.7,"me":-155,"serie":"1/10/2015"},{"m":39.8,"me":-175,"serie":"1/10/2015"},{"m":39.9,"me":-165,"serie":"1/10/2015"},{"m":40.0,"me":-172,"serie":"1/10/2015"},{"m":40.1,"me":-160,"serie":"1/10/2015"},{"m":40.2,"me":-120,"serie":"1/10/2015"},{"m":40.3,"me":-175,"serie":"1/10/2015"},{"m":40.4,"me":-150,"serie":"1/10/2015"},{"m":40.5,"me":-200,"serie":"1/10/2015"},{"m":40.6,"me":-160,"serie":"1/10/2015"},{"m":40.7,"me":-130,"serie":"1/10/2015"},{"m":40.8,"me":-227,"serie":"1/10/2015"},{"m":40.9,"me":-170,"serie":"1/10/2015"},{"m":41.0,"me":-250,"serie":"1/10/2015"},{"m":41.1,"me":-150,"serie":"1/10/2015"},{"m":41.2,"me":-283,"serie":"1/10/2015"},{"m":41.3,"me":-170,"serie":"1/10/2015"},{"m":41.4,"me":-125,"serie":"1/10/2015"},{"m":41.5,"me":-190,"serie":"1/10/2015"},{"m":41.6,"me":-160,"serie":"1/10/2015"},{"m":41.7,"me":-140,"serie":"1/10/2015"},{"m":41.8,"me":-175,"serie":"1/10/2015"},{"m":41.9,"me":-130,"serie":"1/10/2015"},{"m":42.0,"me":-165,"serie":"1/10/2015"},{"m":42.1,"me":-145,"serie":"1/10/2015"},{"m":42.2,"me":-227,"serie":"1/10/2015"},{"m":42.3,"me":-150,"serie":"1/10/2015"},{"m":42.4,"me":-140,"serie":"1/10/2015"},{"m":42.5,"me":-17,"serie":"1/10/2015"},{"m":42.6,"me":-160,"serie":"1/10/2015"},{"m":42.7,"me":-130,"serie":"1/10/2015"},{"m":42.8,"me":-155,"serie":"1/10/2015"},{"m":42.9,"me":-115,"serie":"1/10/2015"},{"m":43.0,"me":-150,"serie":"1/10/2015"},{"m":43.1,"me":-170,"serie":"1/10/2015"},{"m":43.2,"me":-110,"serie":"1/10/2015"},{"m":43.3,"me":-155,"serie":"1/10/2015"},{"m":43.4,"me":-135,"serie":"1/10/2015"},{"m":43.5,"me":-190,"serie":"1/10/2015"},{"m":43.6,"me":-140,"serie":"1/10/2015"},{"m":43.7,"me":-120,"serie":"1/10/2015"},{"m":43.8,"me":-160,"serie":"1/10/2015"},{"m":43.9,"me":-145,"serie":"1/10/2015"},{"m":44.0,"me":-200,"serie":"1/10/2015"},{"m":44.1,"me":-150,"serie":"1/10/2015"},{"m":44.2,"me":-130,"serie":"1/10/2015"},{"m":44.3,"me":-160,"serie":"1/10/2015"},{"m":44.4,"me":-135,"serie":"1/10/2015"},{"m":44.5,"me":-140,"serie":"1/10/2015"},{"m":44.6,"me":-132,"serie":"1/10/2015"},{"m":44.7,"me":-150,"serie":"1/10/2015"},{"m":44.8,"me":-170,"serie":"1/10/2015"},{"m":44.9,"me":-150,"serie":"1/10/2015"},{"m":45.0,"me":-165,"serie":"1/10/2015"},{"m":45.1,"me":-130,"serie":"1/10/2015"},{"m":45.2,"me":-170,"serie":"1/10/2015"},{"m":45.3,"me":-160,"serie":"1/10/2015"},{"m":45.4,"me":-175,"serie":"1/10/2015"},{"m":45.5,"me":-140,"serie":"1/10/2015"},{"m":45.6,"me":-168,"serie":"1/10/2015"},{"m":45.7,"me":-160,"serie":"1/10/2015"},{"m":45.8,"me":-185,"serie":"1/10/2015"},{"m":45.9,"me":-162,"serie":"1/10/2015"},{"m":46.0,"me":-170,"serie":"1/10/2015"},{"m":46.1,"me":-160,"serie":"1/10/2015"},{"m":46.2,"me":-205,"serie":"1/10/2015"},{"m":46.3,"me":-165,"serie":"1/10/2015"},{"m":46.4,"me":-172,"serie":"1/10/2015"},{"m":46.5,"me":-158,"serie":"1/10/2015"},{"m":46.6,"me":-175,"serie":"1/10/2015"},{"m":46.7,"me":-160,"serie":"1/10/2015"},{"m":46.8,"me":-170,"serie":"1/10/2015"},{"m":46.9,"me":-163,"serie":"1/10/2015"},{"m":47.0,"me":-175,"serie":"1/10/2015"},{"m":47.1,"me":-160,"serie":"1/10/2015"},{"m":47.2,"me":-168,"serie":"1/10/2015"},{"m":47.3,"me":-158,"serie":"1/10/2015"},{"m":47.4,"me":-172,"serie":"1/10/2015"},{"m":47.5,"me":-162,"serie":"1/10/2015"},{"m":47.6,"me":-175,"serie":"1/10/2015"},{"m":47.7,"me":-160,"serie":"1/10/2015"},{"m":47.8,"me":-170,"serie":"1/10/2015"},{"m":47.9,"me":-150,"serie":"1/10/2015"},{"m":48.0,"me":-130,"serie":"1/10/2015"},{"m":48.1,"me":-95,"serie":"1/10/2015"},{"m":48.2,"me":-89,"serie":"1/10/2015"},{"m":48.3,"me":-97,"serie":"1/10/2015"},{"m":48.4,"me":-92,"serie":"1/10/2015"},{"m":48.5,"me":-110,"serie":"1/10/2015"},{"m":48.6,"me":-160,"serie":"1/10/2015"},{"m":48.7,"me":-175,"serie":"1/10/2015"},{"m":48.8,"me":-150,"serie":"1/10/2015"},{"m":48.9,"me":-180,"serie":"1/10/2015"},{"m":49.0,"me":-160,"serie":"1/10/2015"},{"m":49.1,"me":-170,"serie":"1/10/2015"},{"m":49.2,"me":-155,"serie":"1/10/2015"},{"m":49.3,"me":-175,"serie":"1/10/2015"},{"m":49.4,"me":-150,"serie":"1/10/2015"},{"m":49.5,"me":-119,"serie":"1/10/2015"},{"m":49.6,"me":-140,"serie":"1/10/2015"},{"m":49.7,"me":-125,"serie":"1/10/2015"},{"m":49.8,"me":-150,"serie":"1/10/2015"},{"m":49.9,"me":-132,"serie":"1/10/2015"},{"m":50.0,"me":-190,"serie":"1/10/2015"},{"m":50.1,"me":-160,"serie":"1/10/2015"},{"m":50.2,"me":-165,"serie":"1/10/2015"},
{"m":14.75,"me":-170,"serie":"1/10/2015"},{"m":14.85,"me":-120,"serie":"1/10/2015"},{"m":14.95,"me":-205,"serie":"1/10/2015"},{"m":15.05,"me":-90,"serie":"1/10/2015"},{"m":15.15,"me":-185,"serie":"1/10/2015"},{"m":15.25,"me":-130,"serie":"1/10/2015"},{"m":15.35,"me":-210,"serie":"1/10/2015"},{"m":15.45,"me":-100,"serie":"1/10/2015"},{"m":15.55,"me":-190,"serie":"1/10/2015"},{"m":15.65,"me":-110,"serie":"1/10/2015"},{"m":15.75,"me":-200,"serie":"1/10/2015"},{"m":15.85,"me":-125,"serie":"1/10/2015"},{"m":15.95,"me":-175,"serie":"1/10/2015"},{"m":16.05,"me":-105,"serie":"1/10/2015"},{"m":16.15,"me":-180,"serie":"1/10/2015"},{"m":16.25,"me":-115,"serie":"1/10/2015"},{"m":16.35,"me":-165,"serie":"1/10/2015"},{"m":16.45,"me":-110,"serie":"1/10/2015"},{"m":16.55,"me":-185,"serie":"1/10/2015"},{"m":16.65,"me":-120,"serie":"1/10/2015"},{"m":16.75,"me":-170,"serie":"1/10/2015"},{"m":16.85,"me":-105,"serie":"1/10/2015"},{"m":16.95,"me":-190,"serie":"1/10/2015"},{"m":17.05,"me":-120,"serie":"1/10/2015"},{"m":17.15,"me":-165,"serie":"1/10/2015"},{"m":17.25,"me":-110,"serie":"1/10/2015"},{"m":17.35,"me":-195,"serie":"1/10/2015"},{"m":17.45,"me":-115,"serie":"1/10/2015"},{"m":17.55,"me":-170,"serie":"1/10/2015"},{"m":17.65,"me":-100,"serie":"1/10/2015"},{"m":17.75,"me":-185,"serie":"1/10/2015"},{"m":17.85,"me":-120,"serie":"1/10/2015"},{"m":17.95,"me":-200,"serie":"1/10/2015"},{"m":18.05,"me":-115,"serie":"1/10/2015"},{"m":18.15,"me":-180,"serie":"1/10/2015"},{"m":18.25,"me":-110,"serie":"1/10/2015"},{"m":18.35,"me":-190,"serie":"1/10/2015"},{"m":18.45,"me":-120,"serie":"1/10/2015"},{"m":18.55,"me":-175,"serie":"1/10/2015"},{"m":18.65,"me":-115,"serie":"1/10/2015"},{"m":18.75,"me":-180,"serie":"1/10/2015"},{"m":18.85,"me":-125,"serie":"1/10/2015"},{"m":18.95,"me":-170,"serie":"1/10/2015"},{"m":19.05,"me":-110,"serie":"1/10/2015"},{"m":19.15,"me":-185,"serie":"1/10/2015"},{"m":19.25,"me":-120,"serie":"1/10/2015"},{"m":19.35,"me":-175,"serie":"1/10/2015"},{"m":19.45,"me":-105,"serie":"1/10/2015"},{"m":19.55,"me":-165,"serie":"1/10/2015"},{"m":19.65,"me":-120,"serie":"1/10/2015"},{"m":19.75,"me":-190,"serie":"1/10/2015"},{"m":19.85,"me":-115,"serie":"1/10/2015"},{"m":19.95,"me":-175,"serie":"1/10/2015"},{"m":20.05,"me":-125,"serie":"1/10/2015"},{"m":20.15,"me":-185,"serie":"1/10/2015"},{"m":20.25,"me":-110,"serie":"1/10/2015"},{"m":20.35,"me":-180,"serie":"1/10/2015"},{"m":20.45,"me":-120,"serie":"1/10/2015"},{"m":20.55,"me":-170,"serie":"1/10/2015"},{"m":20.65,"me":-115,"serie":"1/10/2015"},{"m":20.75,"me":-190,"serie":"1/10/2015"},{"m":20.85,"me":-125,"serie":"1/10/2015"},{"m":20.95,"me":-175,"serie":"1/10/2015"},{"m":21.05,"me":-110,"serie":"1/10/2015"},{"m":21.15,"me":-185,"serie":"1/10/2015"},{"m":21.25,"me":-120,"serie":"1/10/2015"},{"m":21.35,"me":-190,"serie":"1/10/2015"},{"m":21.45,"me":-115,"serie":"1/10/2015"},{"m":21.55,"me":-175,"serie":"1/10/2015"},{"m":21.65,"me":-105,"serie":"1/10/2015"},{"m":21.75,"me":-180,"serie":"1/10/2015"},{"m":21.85,"me":-120,"serie":"1/10/2015"},{"m":21.95,"me":-185,"serie":"1/10/2015"},{"m":22.05,"me":-110,"serie":"1/10/2015"},{"m":22.15,"me":-175,"serie":"1/10/2015"},{"m":22.25,"me":-120,"serie":"1/10/2015"},{"m":22.35,"me":-190,"serie":"1/10/2015"},{"m":22.45,"me":-100,"serie":"1/10/2015"},{"m":22.55,"me":-180,"serie":"1/10/2015"},{"m":22.65,"me":-115,"serie":"1/10/2015"},{"m":22.75,"me":-170,"serie":"1/10/2015"},{"m":22.85,"me":-110,"serie":"1/10/2015"},{"m":22.95,"me":-185,"serie":"1/10/2015"},{"m":23.05,"me":-105,"serie":"1/10/2015"},{"m":23.15,"me":-190,"serie":"1/10/2015"},{"m":23.25,"me":-110,"serie":"1/10/2015"},{"m":23.35,"me":-180,"serie":"1/10/2015"},{"m":23.45,"me":-100,"serie":"1/10/2015"},{"m":23.55,"me":-195,"serie":"1/10/2015"},{"m":23.65,"me":-115,"serie":"1/10/2015"},{"m":23.75,"me":-185,"serie":"1/10/2015"},{"m":23.85,"me":-105,"serie":"1/10/2015"},{"m":23.95,"me":-200,"serie":"1/10/2015"},{"m":24.05,"me":-110,"serie":"1/10/2015"},{"m":24.15,"me":-180,"serie":"1/10/2015"},{"m":24.25,"me":-100,"serie":"1/10/2015"},{"m":24.35,"me":-195,"serie":"1/10/2015"},{"m":24.45,"me":-120,"serie":"1/10/2015"},{"m":24.55,"me":-185,"serie":"1/10/2015"},{"m":24.65,"me":-95,"serie":"1/10/2015"},{"m":24.75,"me":-190,"serie":"1/10/2015"},{"m":24.85,"me":-110,"serie":"1/10/2015"},{"m":24.95,"me":-175,"serie":"1/10/2015"},{"m":25.05,"me":-105,"serie":"1/10/2015"},{"m":25.15,"me":-200,"serie":"1/10/2015"},{"m":25.25,"me":-110,"serie":"1/10/2015"},{"m":25.35,"me":-185,"serie":"1/10/2015"},{"m":25.45,"me":-90,"serie":"1/10/2015"},{"m":25.55,"me":-205,"serie":"1/10/2015"},{"m":25.65,"me":-100,"serie":"1/10/2015"},{"m":25.75,"me":-230,"serie":"1/10/2015"},{"m":25.85,"me":-120,"serie":"1/10/2015"},{"m":25.95,"me":-210,"serie":"1/10/2015"},{"m":26.05,"me":-110,"serie":"1/10/2015"},{"m":26.15,"me":-240,"serie":"1/10/2015"},{"m":26.25,"me":-100,"serie":"1/10/2015"},{"m":26.35,"me":-190,"serie":"1/10/2015"},{"m":26.45,"me":-95,"serie":"1/10/2015"},{"m":26.55,"me":-210,"serie":"1/10/2015"},{"m":26.65,"me":-100,"serie":"1/10/2015"},{"m":26.75,"me":-195,"serie":"1/10/2015"},{"m":26.85,"me":-90,"serie":"1/10/2015"},{"m":26.95,"me":-200,"serie":"1/10/2015"},{"m":27.05,"me":-105,"serie":"1/10/2015"},{"m":27.15,"me":-190,"serie":"1/10/2015"},{"m":27.25,"me":-95,"serie":"1/10/2015"},{"m":27.35,"me":-210,"serie":"1/10/2015"},{"m":27.45,"me":-100,"serie":"1/10/2015"},{"m":27.55,"me":-195,"serie":"1/10/2015"},{"m":27.65,"me":-85,"serie":"1/10/2015"},{"m":27.75,"me":-205,"serie":"1/10/2015"},{"m":27.85,"me":-100,"serie":"1/10/2015"},{"m":27.95,"me":-190,"serie":"1/10/2015"},{"m":28.05,"me":-95,"serie":"1/10/2015"},{"m":28.15,"me":-215,"serie":"1/10/2015"},{"m":28.25,"me":-100,"serie":"1/10/2015"},{"m":28.35,"me":-200,"serie":"1/10/2015"},{"m":28.45,"me":-90,"serie":"1/10/2015"},{"m":28.55,"me":-210,"serie":"1/10/2015"},{"m":28.65,"me":-105,"serie":"1/10/2015"},{"m":28.75,"me":-195,"serie":"1/10/2015"},{"m":28.85,"me":-100,"serie":"1/10/2015"},{"m":28.95,"me":-220,"serie":"1/10/2015"},{"m":29.05,"me":-110,"serie":"1/10/2015"},{"m":29.15,"me":-200,"serie":"1/10/2015"},{"m":29.25,"me":-95,"serie":"1/10/2015"},{"m":29.35,"me":-225,"serie":"1/10/2015"},{"m":29.45,"me":-110,"serie":"1/10/2015"},{"m":29.55,"me":-205,"serie":"1/10/2015"},{"m":29.65,"me":-100,"serie":"1/10/2015"},{"m":29.75,"me":-215,"serie":"1/10/2015"},{"m":29.85,"me":-115,"serie":"1/10/2015"},{"m":29.95,"me":-230,"serie":"1/10/2015"},{"m":30.05,"me":-110,"serie":"1/10/2015"},{"m":30.15,"me":-240,"serie":"1/10/2015"},{"m":30.25,"me":-120,"serie":"1/10/2015"},{"m":30.35,"me":-210,"serie":"1/10/2015"},{"m":30.45,"me":-105,"serie":"1/10/2015"},{"m":30.55,"me":-220,"serie":"1/10/2015"},{"m":30.65,"me":-110,"serie":"1/10/2015"},{"m":30.75,"me":-250,"serie":"1/10/2015"},{"m":30.85,"me":-115,"serie":"1/10/2015"},{"m":30.95,"me":-205,"serie":"1/10/2015"},{"m":31.05,"me":-100,"serie":"1/10/2015"},{"m":31.15,"me":-215,"serie":"1/10/2015"},{"m":31.25,"me":-110,"serie":"1/10/2015"},{"m":31.35,"me":-200,"serie":"1/10/2015"},{"m":31.45,"me":-95,"serie":"1/10/2015"},{"m":31.55,"me":-210,"serie":"1/10/2015"},{"m":31.65,"me":-105,"serie":"1/10/2015"},{"m":31.75,"me":-195,"serie":"1/10/2015"},{"m":31.85,"me":-100,"serie":"1/10/2015"},{"m":31.95,"me":-205,"serie":"1/10/2015"},{"m":32.05,"me":-110,"serie":"1/10/2015"},{"m":32.15,"me":-185,"serie":"1/10/2015"},{"m":32.25,"me":-100,"serie":"1/10/2015"},{"m":32.35,"me":-180,"serie":"1/10/2015"},{"m":32.45,"me":-95,"serie":"1/10/2015"},{"m":32.55,"me":-175,"serie":"1/10/2015"},{"m":32.65,"me":-105,"serie":"1/10/2015"},{"m":32.75,"me":-170,"serie":"1/10/2015"},{"m":32.85,"me":-100,"serie":"1/10/2015"},{"m":32.95,"me":-175,"serie":"1/10/2015"},{"m":33.05,"me":-95,"serie":"1/10/2015"},{"m":33.15,"me":-165,"serie":"1/10/2015"},{"m":33.25,"me":-90,"serie":"1/10/2015"},{"m":33.35,"me":-160,"serie":"1/10/2015"},{"m":33.45,"me":-85,"serie":"1/10/2015"},{"m":33.55,"me":-130,"serie":"1/10/2015"},{"m":33.65,"me":-40,"serie":"1/10/2015"},{"m":33.75,"me":-70,"serie":"1/10/2015"},{"m":33.85,"me":-20,"serie":"1/10/2015"},{"m":33.95,"me":-95,"serie":"1/10/2015"},{"m":34.05,"me":-40,"serie":"1/10/2015"},{"m":34.15,"me":-110,"serie":"1/10/2015"},{"m":34.25,"me":-55,"serie":"1/10/2015"},{"m":34.35,"me":-130,"serie":"1/10/2015"},{"m":34.45,"me":-60,"serie":"1/10/2015"},{"m":34.55,"me":-140,"serie":"1/10/2015"},{"m":34.65,"me":-75,"serie":"1/10/2015"},{"m":34.75,"me":-160,"serie":"1/10/2015"},{"m":34.85,"me":-90,"serie":"1/10/2015"},{"m":34.95,"me":-175,"serie":"1/10/2015"},{"m":35.05,"me":-100,"serie":"1/10/2015"},{"m":35.15,"me":-180,"serie":"1/10/2015"},{"m":35.25,"me":-110,"serie":"1/10/2015"},{"m":35.35,"me":-190,"serie":"1/10/2015"},{"m":35.45,"me":-105,"serie":"1/10/2015"},{"m":35.55,"me":-185,"serie":"1/10/2015"},{"m":35.65,"me":-115,"serie":"1/10/2015"},{"m":35.75,"me":-175,"serie":"1/10/2015"},{"m":35.85,"me":-110,"serie":"1/10/2015"},{"m":35.95,"me":-190,"serie":"1/10/2015"},{"m":36.05,"me":-115,"serie":"1/10/2015"},{"m":36.15,"me":-180,"serie":"1/10/2015"},{"m":36.25,"me":-105,"serie":"1/10/2015"},{"m":36.35,"me":-195,"serie":"1/10/2015"},{"m":36.45,"me":-110,"serie":"1/10/2015"},{"m":36.55,"me":-185,"serie":"1/10/2015"},{"m":36.65,"me":-120,"serie":"1/10/2015"},{"m":36.75,"me":-175,"serie":"1/10/2015"},{"m":36.85,"me":-115,"serie":"1/10/2015"},{"m":36.95,"me":-190,"serie":"1/10/2015"},{"m":37.05,"me":-125,"serie":"1/10/2015"},{"m":37.15,"me":-180,"serie":"1/10/2015"},{"m":37.25,"me":-130,"serie":"1/10/2015"},{"m":37.35,"me":-195,"serie":"1/10/2015"},{"m":37.45,"me":-140,"serie":"1/10/2015"},{"m":37.55,"me":-185,"serie":"1/10/2015"},{"m":37.65,"me":-135,"serie":"1/10/2015"},{"m":37.75,"me":-190,"serie":"1/10/2015"},{"m":37.85,"me":-140,"serie":"1/10/2015"},{"m":37.95,"me":-180,"serie":"1/10/2015"},
{"m":40.05,"me":-190,"serie":"1/10/2015"},{"m":40.15,"me":-130,"serie":"1/10/2015"},{"m":40.25,"me":-200,"serie":"1/10/2015"},{"m":40.35,"me":-120,"serie":"1/10/2015"},{"m":40.45,"me":-210,"serie":"1/10/2015"},{"m":40.55,"me":-130,"serie":"1/10/2015"},{"m":40.65,"me":-220,"serie":"1/10/2015"},{"m":40.75,"me":-140,"serie":"1/10/2015"},{"m":40.85,"me":-200,"serie":"1/10/2015"},{"m":40.95,"me":-130,"serie":"1/10/2015"},{"m":41.05,"me":-215,"serie":"1/10/2015"},{"m":41.15,"me":-120,"serie":"1/10/2015"},{"m":41.25,"me":-230,"serie":"1/10/2015"},{"m":41.35,"me":-130,"serie":"1/10/2015"},{"m":41.45,"me":-200,"serie":"1/10/2015"},{"m":41.55,"me":-120,"serie":"1/10/2015"},{"m":41.65,"me":-190,"serie":"1/10/2015"},{"m":41.75,"me":-125,"serie":"1/10/2015"},{"m":41.85,"me":-185,"serie":"1/10/2015"},{"m":41.95,"me":-115,"serie":"1/10/2015"},{"m":42.05,"me":-190,"serie":"1/10/2015"},{"m":42.15,"me":-120,"serie":"1/10/2015"},{"m":42.25,"me":-180,"serie":"1/10/2015"},{"m":42.35,"me":-110,"serie":"1/10/2015"},{"m":42.45,"me":-175,"serie":"1/10/2015"},{"m":42.55,"me":-120,"serie":"1/10/2015"},{"m":42.65,"me":-180,"serie":"1/10/2015"},{"m":42.75,"me":-110,"serie":"1/10/2015"},{"m":42.85,"me":-175,"serie":"1/10/2015"},{"m":42.95,"me":-125,"serie":"1/10/2015"},{"m":43.05,"me":-180,"serie":"1/10/2015"},{"m":43.15,"me":-115,"serie":"1/10/2015"},{"m":43.25,"me":-175,"serie":"1/10/2015"},{"m":43.35,"me":-120,"serie":"1/10/2015"},{"m":43.45,"me":-170,"serie":"1/10/2015"},{"m":43.55,"me":-125,"serie":"1/10/2015"},{"m":43.65,"me":-180,"serie":"1/10/2015"},{"m":43.75,"me":-130,"serie":"1/10/2015"},{"m":43.85,"me":-175,"serie":"1/10/2015"},{"m":43.95,"me":-135,"serie":"1/10/2015"}
]},
"mark": {"type": "line", "strokeWidth": 1.5, "interpolate": "linear"},
"encoding": {
"x": {"field": "m", "type": "quantitative",
"scale": {"domain": [0, 60], "nice": false, "zero": false},
"axis": {"values": [0, 10, 20, 30, 40, 50, 60], "offset": -370, "grid": false, "domainColor": "#868686", "domainWidth": 1.5, "tickColor": "#868686", "tickSize": 10, "tickWidth": 1.5, "labelFontSize": 25, "labelColor": "#1a1a1a", "labelPadding": 20, "labelFont": "Lato", "labelFlush": false,
"title": "Longitud (m)", "titleFontSize": 28, "titleFontWeight": "bold", "titleColor": "#000000", "titlePadding": 331, "titleFont": "Lato"}},
"y": {"field": "me", "type": "quantitative",
"scale": {"domain": [-800, 400], "nice": false, "zero": false},
"axis": {"values": [-800, -600, -400, -200, 0, 200, 400], "labelExpr": "replace(datum.label, '\u2212', '-')", "grid": false, "domainColor": "#868686", "domainWidth": 1.5, "tickColor": "#868686", "tickSize": 10, "tickWidth": 1.5, "labelFontSize": 25, "labelColor": "#1a1a1a", "labelPadding": 17, "labelFont": "Lato", "labelFlush": false,
"title": "deformación (me)", "titleFontSize": 26, "titleFontWeight": "bold", "titleColor": "#000000", "titlePadding": 2, "titleFont": "Lato"}},
"color": {"field": "serie", "type": "nominal", "sort": ["6/08/2015", "1/10/2015"],
"scale": {"domain": ["6/08/2015", "1/10/2015"], "range": ["#C0504D", "#4F81BD"]},
"legend": {"orient": "none", "legendX": 564, "legendY": 330, "title": null, "symbolType": "stroke", "symbolSize": 3249, "symbolStrokeWidth": 1.5, "labelFontSize": 25.5, "labelFont": "Lato", "labelColor": "#1a1a1a", "labelOffset": 5, "rowPadding": 37, "padding": 0}}
}
}
